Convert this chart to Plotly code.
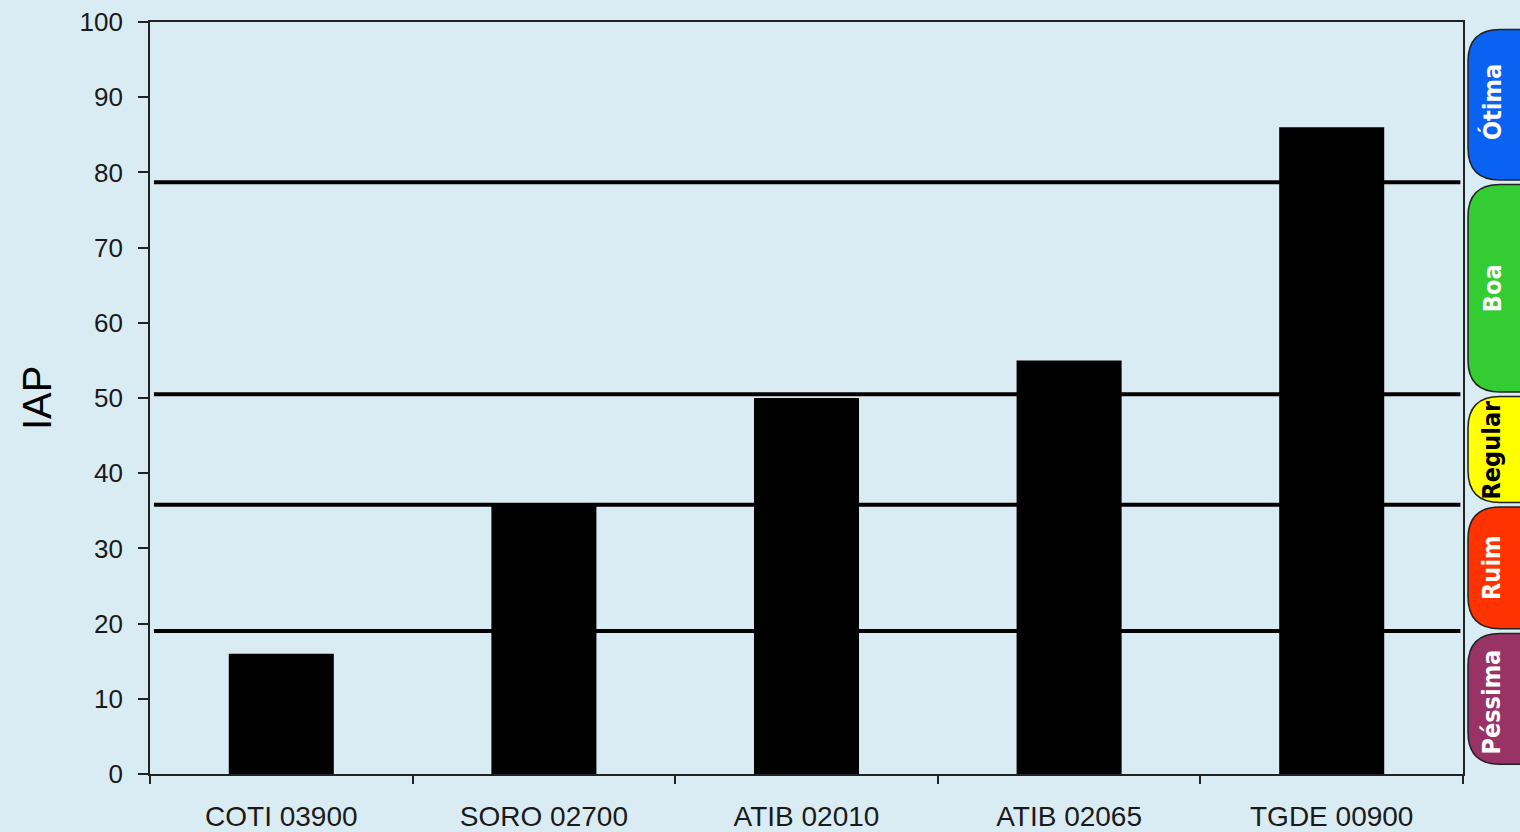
import plotly.graph_objects as go

# ---- data ----
stations = ["COTI 03900", "SORO 02700", "ATIB 02010", "ATIB 02065", "TGDE 00900"]
iap_values = [16, 36, 50, 55, 86]

# class limits (lower, upper) and labels for IAP quality bands
class_names = ["Péssima", "Ruim", "Regular", "Boa", "Ótima"]
class_limits = [0, 19, 35.8, 50.5, 78.7, 100]
class_colors = ["#993366", "#ff3300", "#ffff00", "#33cc33", "#0a62f2"]
class_text_colors = ["white", "white", "black", "white", "white"]
threshold_lines = [19, 35.8, 50.5, 78.7]

y_ticks = list(range(0, 101, 10))

BG = "#daecf3"

fig = go.Figure()
fig.add_trace(go.Bar(
    x=stations, y=iap_values, width=0.4,
    marker=dict(color="black", line=dict(width=0)),
    showlegend=False,
))

shapes = []
for yv in threshold_lines:
    shapes.append(dict(type="line", xref="paper", yref="y", x0=0.003, x1=0.998,
                       y0=yv, y1=yv, line=dict(color="black", width=4), layer="below"))

# rounded boxes at right
plot_w = 1520 - 150 - 57
plot_h = 832 - 22 - 58
px_y = plot_h / 100.0
rx = 32 / plot_w
ry = 32 / px_y
bx0 = (1468 - 150) / plot_w
bx1 = (1570 - 150) / plot_w
tx = (1492 - 150) / plot_w


def rrect(x0, x1, y0, y1):
    return (f"M {x0+rx},{y1} L {x1-rx},{y1} Q {x1},{y1} {x1},{y1-ry} "
            f"L {x1},{y0+ry} Q {x1},{y0} {x1-rx},{y0} L {x0+rx},{y0} "
            f"Q {x0},{y0} {x0},{y0+ry} L {x0},{y1-ry} Q {x0},{y1} {x0+rx},{y1} Z")


annotations = []
for i, name in enumerate(class_names):
    lo = max(class_limits[i], 1.0) + 0.3
    hi = min(class_limits[i + 1], 99.3) - 0.3
    shapes.append(dict(type="path", xref="paper", yref="y", path=rrect(bx0, bx1, lo, hi),
                       fillcolor=class_colors[i], line=dict(color="#222222", width=1.5),
                       layer="above"))
    annotations.append(dict(
        x=tx, y=(class_limits[i] + class_limits[i + 1]) / 2, xref="paper", yref="y",
        text=f"<b>{name}</b>", textangle=-90, showarrow=False,
        font=dict(family="DejaVu Sans Condensed, DejaVu Sans", size=25,
                  color=class_text_colors[i]),
        xanchor="center", yanchor="middle"))

annotations.append(dict(
    x=(37 - 150) / plot_w, y=0.5, xref="paper", yref="paper", text="IAP",
    textangle=-90, showarrow=False,
    font=dict(family="Liberation Sans, Arial", size=40, color="black"),
    xanchor="center", yanchor="middle"))

fig.update_layout(
    width=1520, height=832,
    margin=dict(l=150, r=57, t=22, b=58, autoexpand=False),
    paper_bgcolor=BG, plot_bgcolor=BG,
    font=dict(family="Liberation Sans, Arial", color="black"),
    shapes=shapes, annotations=annotations,
    bargap=0.6,
)
fig.update_xaxes(
    type="category", tickson="boundaries", ticks="outside", ticklen=8, tickwidth=1.5,
    tickcolor="#222222", showline=True, linecolor="#222222", linewidth=1.8, mirror=True,
    showgrid=False, tickfont=dict(size=28, color="#1a1a1a"), ticklabelstandoff=16,
    automargin=False,
)
fig.update_yaxes(
    range=[0, 100], tickvals=y_ticks, ticks="outside", ticklen=10, tickwidth=1.5,
    tickcolor="#222222", showline=True, linecolor="#222222", linewidth=1.8, mirror=True,
    showgrid=False, zeroline=False, tickfont=dict(size=26, color="#1a1a1a"),
    ticklabelstandoff=10, automargin=False,
)

fig.write_html("out.html")
